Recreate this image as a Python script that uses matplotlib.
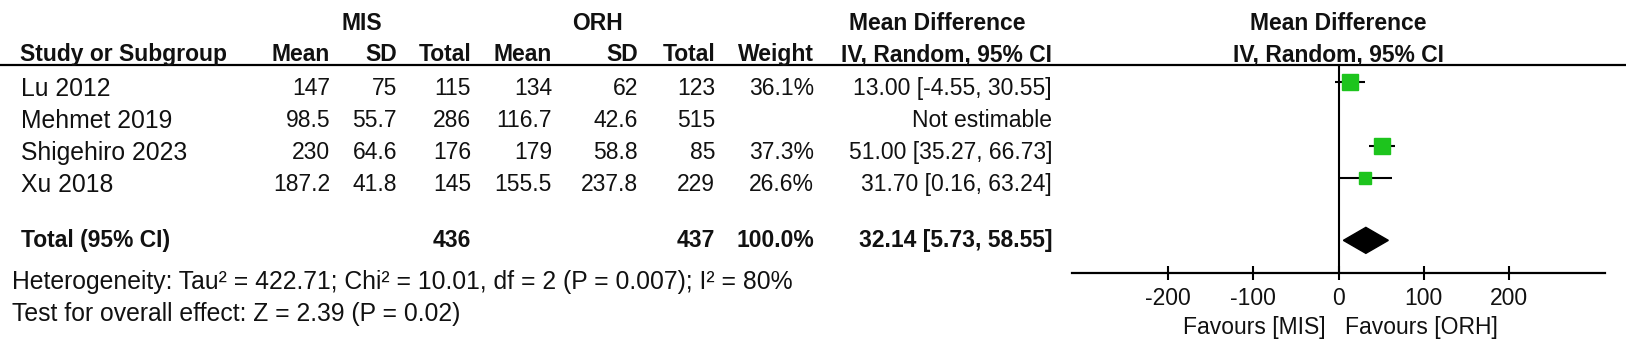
import matplotlib.pyplot as plt
from matplotlib.lines import Line2D

plt.rcParams["font.family"] = ["Liberation Sans", "DejaVu Sans"]
plt.rcParams["axes.unicode_minus"] = False

# data
studies = ["Lu 2012", "Mehmet 2019", "Shigehiro 2023", "Xu 2018"]
mis_mean = [147, 98.5, 230, 187.2]
mis_sd = [75, 55.7, 64.6, 41.8]
mis_n = [115, 286, 176, 145]
orh_mean = [134, 116.7, 179, 155.5]
orh_sd = [62, 42.6, 58.8, 237.8]
orh_n = [123, 515, 85, 229]
weights = [36.1, None, 37.3, 26.6]
md = [13.00, None, 51.00, 31.70]
ci_lo = [-4.55, None, 35.27, 0.16]
ci_hi = [30.55, None, 66.73, 63.24]

total_mis = 436
total_orh = 437
total_md = 32.14
total_lo = 5.73
total_hi = 58.55
heterogeneity = "Heterogeneity: Tau² = 422.71; Chi² = 10.01, df = 2 (P = 0.007); I² = 80%"
overall = "Test for overall effect: Z = 2.39 (P = 0.02)"
xticks = [-200, -100, 0, 100, 200]
x_range = (-313, 313)

W, H = 1626, 352
FS = 16.5
FS_WIDE = 17.8  # study names and footer lines run a little wider in the original
GREEN = "#1dc41d"

fig = plt.figure(figsize=(W / 100, H / 100), dpi=100)


def put(x, y, s, ha="right", bold=False, size=FS):
    # y is the visual centre of the text line in pixels from the top
    fig.text(x / W, 1 - (y + size * 0.5) / H, s, ha=ha, va="baseline", fontsize=size,
             fontweight="bold" if bold else "normal", color="#111111")


# header
put(362, 22, "MIS", ha="center", bold=True)
put(597, 22, "ORH", ha="center", bold=True)
put(937, 22, "Mean Difference", ha="center", bold=True)
put(1338, 22, "Mean Difference", ha="center", bold=True)
put(20, 53, "Study or Subgroup", ha="left", bold=True)
for x, s in zip([330, 397, 471, 552, 638, 715, 814, 1052],
                ["Mean", "SD", "Total", "Mean", "SD", "Total", "Weight", "IV, Random, 95% CI"]):
    put(x, 53, s, bold=True)
put(1338, 53, "IV, Random, 95% CI", ha="center", bold=True)
fig.add_artist(Line2D([0, 1], [1 - 65 / H] * 2, color="black", lw=1.6,
                      transform=fig.transFigure))

# study rows
for i, name in enumerate(studies):
    y = 87 + 32 * i
    put(21, y, name, ha="left", size=FS_WIDE)
    put(330, y, f"{mis_mean[i]:g}")
    put(397, y, f"{mis_sd[i]:g}")
    put(471, y, f"{mis_n[i]}")
    put(552, y, f"{orh_mean[i]:g}")
    put(638, y, f"{orh_sd[i]:g}")
    put(715, y, f"{orh_n[i]}")
    if md[i] is None:
        put(1052, y, "Not estimable")
    else:
        put(814, y, f"{weights[i]:.1f}%")
        put(1052, y, f"{md[i]:.2f} [{ci_lo[i]:.2f}, {ci_hi[i]:.2f}]")

# total row
put(21, 239, "Total (95% CI)", ha="left", bold=True)
put(471, 239, f"{total_mis}", bold=True)
put(715, 239, f"{total_orh}", bold=True)
put(814, 239, "100.0%", bold=True)
put(1052, 239, f"{total_md:.2f} [{total_lo:.2f}, {total_hi:.2f}]", bold=True)
put(12, 280, heterogeneity, ha="left", size=FS_WIDE)
put(12, 312, overall, ha="left", size=FS_WIDE)

# forest plot
ax = fig.add_axes([1072 / W, 1 - 273 / H, (1605 - 1072) / W, (273 - 65) / H])
ax.set_xlim(*x_range)
ax.set_ylim(5.97, -0.53)
for i in range(len(studies)):
    if md[i] is None:
        continue
    ax.hlines(i, ci_lo[i], ci_hi[i], color="black", lw=1.5, zorder=2)
    side = weights[i] * 0.45 * 0.72
    ax.plot(md[i], i, marker="s", ms=side, color=GREEN, mec=GREEN, zorder=3)

total_row = 4.95
h = 13 / 32
ax.fill([total_lo, total_md, total_hi, total_md],
        [total_row, total_row - h, total_row, total_row + h], color="black", zorder=3)
ax.axvline(0, color="black", lw=1.5, zorder=1)

for side in ["left", "right", "top"]:
    ax.spines[side].set_visible(False)
ax.spines["bottom"].set_linewidth(1.6)
ax.set_yticks([])
ax.set_xticks(xticks)
ax.set_xticklabels([str(t) for t in xticks])
ax.tick_params(axis="x", direction="inout", length=10, width=1.5, pad=5,
               labelsize=FS, labelcolor="#111111")
ax.patch.set_alpha(0)

put(1326, 326, "Favours [MIS]")
put(1345, 326, "Favours [ORH]", ha="left")

fig.savefig("out.png", dpi=100)
